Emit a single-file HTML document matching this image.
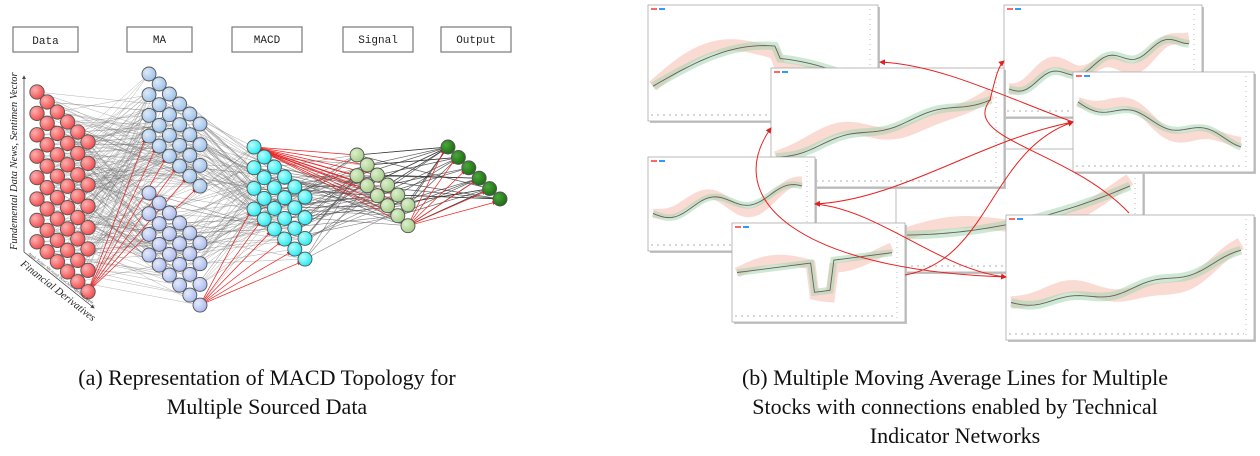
<!DOCTYPE html>
<html><head><meta charset="utf-8"><style>
html,body{margin:0;padding:0;background:#fff;width:1260px;height:456px;overflow:hidden}
svg{display:block}
.cap{font-family:"Liberation Serif",serif;font-size:22px;fill:#111}
.box{fill:#fff;stroke:#777;stroke-width:1.2}
.bl{font-family:"Liberation Mono",monospace;font-size:11px;fill:#222}
</style></head><body>
<svg id="s" width="1260" height="456" viewBox="0 0 1260 456" xmlns="http://www.w3.org/2000/svg">
<defs>
<radialGradient id="gr" cx="35%" cy="35%" r="70%"><stop offset="0" stop-color="#ffb0b0"/><stop offset="1" stop-color="#f04848"/></radialGradient>
<radialGradient id="gb" cx="35%" cy="35%" r="70%"><stop offset="0" stop-color="#dceaf8"/><stop offset="1" stop-color="#9cc0ea"/></radialGradient>
<radialGradient id="gl" cx="35%" cy="35%" r="70%"><stop offset="0" stop-color="#e4eafc"/><stop offset="1" stop-color="#a8b8ee"/></radialGradient>
<radialGradient id="gc" cx="35%" cy="35%" r="70%"><stop offset="0" stop-color="#b8ffff"/><stop offset="1" stop-color="#22e8f0"/></radialGradient>
<radialGradient id="gg" cx="35%" cy="35%" r="70%"><stop offset="0" stop-color="#dcf0cc"/><stop offset="1" stop-color="#a4cc88"/></radialGradient>
<radialGradient id="gd" cx="35%" cy="35%" r="70%"><stop offset="0" stop-color="#4aa83a"/><stop offset="1" stop-color="#1c6a12"/></radialGradient>
<marker id="ar" markerWidth="6" markerHeight="6" refX="5" refY="3" orient="auto"><path d="M0,0 L6,3 L0,6z" fill="#e02020"/></marker>
<marker id="ag" markerWidth="5" markerHeight="5" refX="4" refY="2.5" orient="auto"><path d="M0,0 L5,2.5 L0,5z" fill="#444"/></marker>
</defs>
<g id="edges"></g>
<g id="nodes"></g>
<rect class="box" x="13" y="27" width="65" height="25"/><text class="bl" x="45.5" y="44" text-anchor="middle">Data</text>
<rect class="box" x="127" y="27" width="65" height="25"/><text class="bl" x="159.5" y="43" text-anchor="middle">MA</text>
<rect class="box" x="232" y="27" width="70" height="25"/><text class="bl" x="267" y="43" text-anchor="middle">MACD</text>
<rect class="box" x="343" y="27" width="70" height="25"/><text class="bl" x="378" y="43" text-anchor="middle">Signal</text>
<rect class="box" x="441" y="27" width="70" height="25"/><text class="bl" x="476" y="43" text-anchor="middle">Output</text>
<line x1="24" y1="252" x2="24" y2="76" stroke="#444" stroke-width="0.8" marker-end="url(#ag)"/>
<line x1="24" y1="252" x2="94" y2="308" stroke="#444" stroke-width="0.8" marker-end="url(#ag)"/>
<text transform="translate(17,250) rotate(-90)" font-family="Liberation Serif,serif" font-style="italic" font-size="10.5" fill="#222">Fundemental Data News, Sentimen Vector</text>
<text transform="translate(20,265) rotate(38)" font-family="Liberation Serif,serif" font-style="italic" font-size="10.5" fill="#222">Financial Derivatives</text>
<text transform="translate(28,254) rotate(38)" font-family="Liberation Serif,serif" font-style="italic" font-size="4" fill="#444">Apple  Twitter  Microsoft  DowChem  Alphabet  Apple  ...</text>
<g id="right"></g>
<text class="cap" x="267" y="385" text-anchor="middle">(a) Representation of MACD Topology for</text>
<text class="cap" x="267" y="414" text-anchor="middle">Multiple Sourced Data</text>
<text class="cap" x="955" y="385" text-anchor="middle">(b) Multiple Moving Average Lines for Multiple</text>
<text class="cap" x="955" y="414" text-anchor="middle">Stocks with connections enabled by Technical</text>
<text class="cap" x="955" y="443" text-anchor="middle">Indicator Networks</text>
</svg>
<script>
var NS="http://www.w3.org/2000/svg";
function el(t,a,p){var e=document.createElementNS(NS,t);for(var k in a)e.setAttribute(k,a[k]);(p||document.getElementById('s')).appendChild(e);return e;}
function grid(x0,y0,rows,diags,dy){var r=[];for(var d=0;d<diags;d++)for(var i=0;i<rows;i++)r.push([x0+d*10.2,y0+i*dy+d*10]);return r;}
var red=grid(37,92,8,6,21.4), mab=grid(149,74,4,6,20.7), mal=grid(149,193,4,6,20.7),
 cy=grid(254,147,4,6,20.7), sg=grid(357,155,2,6,20.7), out=[];
for(var i=0;i<6;i++)out.push([448+i*10.4,147+i*10.4]);
var E=document.getElementById('edges'),N=document.getElementById('nodes');
var seed=7;function rnd(){seed=(seed*9301+49297)%233280;return seed/233280;}
var ma=mab.concat(mal);
function con(A,B,k,col,w,op){A.forEach(function(a){for(var j=0;j<k;j++){var b=B[Math.floor(rnd()*B.length)];el('line',{x1:a[0],y1:a[1],x2:b[0],y2:b[1],stroke:col,'stroke-width':w,opacity:op},E);}});}
con(red,ma,5,'#777',0.5,0.55);
con(ma,cy,3,'#777',0.5,0.6);
con(cy,sg,3,'#555',0.6,0.7);
con(sg,out,3,'#333',0.7,0.8);
function rays(a,B,idx){idx.forEach(function(i){var b=B[i];el('line',{x1:a[0],y1:a[1],x2:b[0]-4,y2:b[1]+3,stroke:'#ee2020','stroke-width':0.7,'marker-end':'url(#ar)'},E);});}
rays(red[red.length-1],mab,[3,7,11,15,19,23]);
rays(mal[mal.length-1],cy,[3,7,11,15,19,23]);
var c0=cy[0];sg.forEach(function(b){el('line',{x1:c0[0],y1:c0[1],x2:b[0],y2:b[1],stroke:'#ee2020','stroke-width':0.7},E);});
rays(sg[sg.length-1],out,[0,1,2,3,4,5]);
function nodes(A,g,r){A.forEach(function(a){el('circle',{cx:a[0],cy:a[1],r:r,fill:'url(#'+g+')',stroke:'#555','stroke-width':0.9},N);});}
nodes(red,'gr',7.2);nodes(mab,'gb',7);nodes(mal,'gl',7);nodes(cy,'gc',7);nodes(sg,'gg',7);nodes(out,'gd',7);
var R=document.getElementById('right');
function chart(x,y,w,h,s){var g=el('g',{},R);
el('rect',{x:x+2,y:y+2,width:w,height:h,fill:'#c4c4c4'},g);
el('rect',{x:x,y:y,width:w,height:h,fill:'#fff',stroke:'#aaa','stroke-width':0.8},g);
el('rect',{x:x+3,y:y+3,width:6,height:2,fill:'#f66'},g);el('rect',{x:x+11,y:y+3,width:6,height:2,fill:'#39f'},g);
el('line',{x1:x+3,y1:y+h-6,x2:x+w-10,y2:y+h-6,stroke:'#ccc','stroke-width':1.5,'stroke-dasharray':'2 4'},g);
el('line',{x1:x+w-8,y1:y+4,x2:x+w-8,y2:y+h-4,stroke:'#ddd','stroke-width':2,'stroke-dasharray':'1 4'},g);
var p='',q='';for(var i=0;i<=40;i++){var t=i/40;var yy=y+h*(0.25+0.5*s(t));p+=(i?'L':'M')+(x+5+t*(w-18))+','+yy;q+=(i?'L':'M')+(x+5+t*(w-18))+','+(yy-h*0.08*Math.sin(t*7));}
el('path',{d:q,fill:'none',stroke:'#f4b0a0','stroke-width':h*0.1,opacity:0.45},g);
el('path',{d:p,fill:'none',stroke:'#9cd4a8','stroke-width':h*0.07,opacity:0.5},g);
el('path',{d:p,fill:'none',stroke:'#6a5a60','stroke-width':0.9},g);}
chart(648,5,230,116,function(t){return 0.9-0.7*Math.sin(t*3)*(t<0.6?1:0.7)});
chart(1004,5,198,112,function(t){return 1-t*0.9+0.1*Math.sin(t*20)});
chart(896,149,247,123,function(t){return 0.9-0.8*t*t});
chart(771,68,233,119,function(t){return 1-t+0.05*Math.sin(t*15)});
chart(1073,72,181,100,function(t){return 0.1+0.8*t+0.1*Math.sin(t*14)});
chart(648,157,167,94,function(t){return 0.7-0.5*t+0.15*Math.sin(t*12)});
chart(732,223,173,99,function(t){return 0.5-0.4*t+(Math.abs(t-0.55)<0.06?0.6:0)});
chart(1006,215,248,125,function(t){return 0.9-0.8*t*t+0.05*Math.sin(t*18)});
function arc(d){el('path',{d:d,fill:'none',stroke:'#e82020','stroke-width':1,'marker-end':'url(#ar)'},R);}
arc('M1073 122 C1000 95 940 65 880 62');
arc('M1129 213 C1070 150 960 140 990 100 C995 80 998 66 1004 61');
arc('M1006 277 C800 270 720 200 771 128');
arc('M1073 122 C980 140 900 200 815 204');
arc('M815 204 C880 210 940 270 1006 277');
arc('M905 275 C990 260 990 150 1073 122');
</script>
</body></html>
